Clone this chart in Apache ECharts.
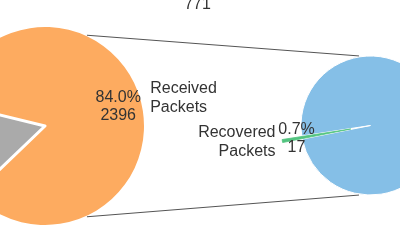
<!DOCTYPE html>
<html><head><meta charset="utf-8">
<script src="https://cdn.jsdelivr.net/npm/echarts@6/dist/echarts.min.js"></script>
<style>html,body{margin:0;padding:0;background:#fff;overflow:hidden}#c{width:400px;height:250px}</style>
</head><body><div id="c"></div>
<script>
// ---- data ----
const leftNames = ['Received\nPackets', 'Lost\nPackets'];
const leftValues = [2396, 456];
const rightNames = ['Unrecovered\nPackets', 'Recovered\nPackets'];
const rightValues = [2411, 17];
const topLabel = '771';

// ---- styling / layout ----
const leftColors = ['#FDAB60', '#AAAAAA'];
const rightColors = ['#85BFE7', '#52C47F'];
const L = { cx: 45, cy: 126, r: 99, start: 166.2, inner: 0.47 };
const R = { cx: 370.5, cy: 125.5, r: 69.5, start: 188.74, offset: 20, inner: 0.5 };
const FONT = 'Liberation Sans, Arial, sans-serif';
const TXT = '#333333';

const chart = echarts.init(document.getElementById('c'), null, { renderer: 'canvas' });

function items(names, values, colors, borders, selIdx, borderColors) {
  return values.map((v, i) => ({
    name: names[i], value: v,
    selected: i === selIdx,
    itemStyle: { color: colors[i], borderColor: borderColors[i], borderWidth: borders[i] }
  }));
}
function nameSeries(geo, names, values, colors, borders, borderColors, selIdx) {
  return {
    type: 'pie', center: [geo.cx, geo.cy], radius: [0, geo.r], startAngle: geo.start, clockwise: true,
    avoidLabelOverlap: false, silent: true, animation: false,
    selectedMode: selIdx != null ? 'single' : false, selectedOffset: geo.offset || 0,
    label: { show: true, position: 'outside', formatter: '{b}', fontSize: 16, lineHeight: 18.5,
      color: TXT, fontFamily: FONT, distanceToLabelLine: 0 },
    labelLine: { show: false, length: geo.r * 0.1, length2: 0 },
    emphasis: { disabled: true },
    data: items(names, values, colors, borders, selIdx, borderColors)
  };
}
function pctSeries(geo, names, values, selIdx) {
  return {
    type: 'pie', center: [geo.cx, geo.cy], radius: [geo.r * geo.inner, geo.r], startAngle: geo.start, clockwise: true,
    avoidLabelOverlap: false, silent: true, animation: false,
    selectedMode: selIdx != null ? 'single' : false, selectedOffset: geo.offset || 0,
    label: { show: true, position: 'inside', fontSize: 16, lineHeight: 18.5, color: TXT, fontFamily: FONT,
      textBorderWidth: 0,
      formatter: p => p.percent.toFixed(1) + '%\n' + p.value },
    labelLine: { show: false },
    emphasis: { disabled: true },
    itemStyle: { color: 'rgba(0,0,0,0)', borderWidth: 0 },
    data: values.map((v, i) => ({ name: names[i], value: v, selected: i === selIdx,
      itemStyle: { color: 'rgba(0,0,0,0)' } }))
  };
}

function rad(d) { return d * Math.PI / 180; }
function pt(geo, a, extra) {
  return [geo.cx + (geo.r + extra) * Math.cos(rad(a)), geo.cy - (geo.r + extra) * Math.sin(rad(a))];
}
const leftA = 65.2, rightA = 99.4;
const connectors = [1, -1].map(s => {
  const p1 = pt(L, s * leftA, 1), p2 = pt(R, s * rightA, 1);
  return { type: 'line', z: 10, silent: true,
    shape: { x1: p1[0], y1: p1[1], x2: p2[0], y2: p2[1] },
    style: { stroke: '#555555', lineWidth: 1 } };
});

chart.setOption({
  backgroundColor: '#ffffff',
  animation: false,
  series: [
    nameSeries(L, leftNames, leftValues, leftColors, [0, 3], ['#fff', '#fff'], null),
    pctSeries(L, leftNames, leftValues, null),
    nameSeries(R, rightNames, rightValues, rightColors, [1, 0.8], ['#fff', rightColors[1]], 1),
    pctSeries(R, rightNames, rightValues, 1)
  ],
  graphic: connectors.concat([{
    type: 'text', silent: true, z: 10, x: 197.5, y: -3,
    style: { text: topLabel, x: 0, y: 0, align: 'center', verticalAlign: 'top',
      font: '16px ' + FONT, fill: TXT }
  }])
});
</script></body></html>
